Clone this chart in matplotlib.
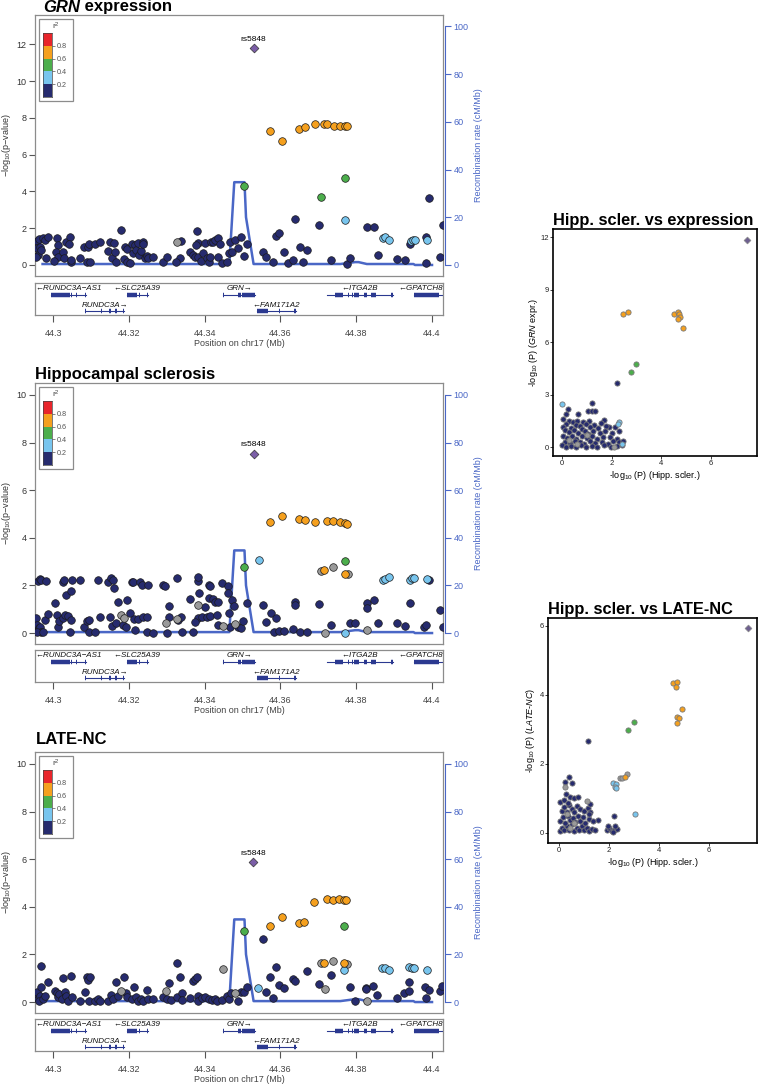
import matplotlib
matplotlib.use("Agg")
import matplotlib.pyplot as plt
from matplotlib.patches import Rectangle

plt.rcParams['font.family'] = ['Liberation Sans', 'DejaVu Sans']
plt.rcParams['mathtext.fontset'] = 'custom'
plt.rcParams['mathtext.rm'] = 'Liberation Sans'
plt.rcParams['mathtext.it'] = 'Liberation Sans:italic'
plt.rcParams['mathtext.bf'] = 'Liberation Sans:bold'

# ---------------- data ----------------
lead_snp = "rs5848"

# recombination rate (cM/Mb)
rec_pos = [44.2972, 44.3465, 44.3478, 44.3505, 44.3509, 44.3529, 44.3758,
           44.3797, 44.3806, 44.3828, 44.3951, 44.3955, 44.4000]
rec_rate = [0.4, 0.4, 34.7, 34.7, 20.0, 0.4, 0.4, 1.2, 1.2, 0.4, 0.4, 0.0, 0.0]

# genes: name, start, end, strand, row, exons
gene_names = ["RUNDC3A\u2212AS1", "RUNDC3A", "SLC25A39", "GRN", "FAM171A2", "ITGA2B", "GPATCH8"]
gene_start = [44.2994, 44.3084, 44.3195, 44.3449, 44.3537, 44.3722, 44.3952]
gene_end = [44.3086, 44.3188, 44.3249, 44.3533, 44.3640, 44.3896, 44.4060]
gene_strand = ["-", "+", "-", "+", "-", "-", "-"]
gene_row = [0, 1, 0, 0, 1, 0, 0]
gene_exons = [
    [(44.2994, 44.3044), (44.3047, 44.3049), (44.3061, 44.3063), (44.3083, 44.3086)],
    [(44.3084, 44.3087), (44.3126, 44.3130), (44.3148, 44.3152), (44.3164, 44.3168), (44.3183, 44.3188)],
    [(44.3195, 44.3220), (44.3227, 44.3230), (44.3247, 44.3249)],
    [(44.3449, 44.3452), (44.3488, 44.3495), (44.3499, 44.3533)],
    [(44.3537, 44.3568), (44.3597, 44.3600), (44.3637, 44.3640)],
    [(44.3722, 44.3724), (44.3744, 44.3766), (44.3778, 44.3781), (44.3789, 44.3792),
     (44.3795, 44.3808), (44.3821, 44.3829), (44.3838, 44.3852), (44.3893, 44.3896)],
    [(44.3952, 44.4018), (44.4030, 44.4034)],
]

# GRN expression: (position Mb, -log10 p)
grn_navy = [
    (44.2956, 1.33), (44.2957, 0.90), (44.2960, 0.55), (44.2962, 1.40), (44.2966, 1.00), (44.2969, 0.80),
    (44.2972, 1.45), (44.2978, 1.36), (44.2987, 1.50), (44.2980, 0.36), (44.2954, 0.45), (44.3009, 1.47),
    (44.3013, 1.10), (44.3007, 0.73), (44.3013, 0.42), (44.3003, 0.24), (44.3026, 0.73), (44.3028, 0.36),
    (44.3033, 1.27), (44.3044, 1.50), (44.3041, 1.15), (44.3046, 0.18), (44.3048, 0.27), (44.3070, 0.40),
    (44.3081, 0.96), (44.3092, 1.00), (44.3095, 1.15), (44.3090, 0.15), (44.3098, 0.15), (44.3111, 1.13),
    (44.3123, 1.24), (44.3145, 0.78), (44.3150, 1.24), (44.3154, 0.40), (44.3161, 1.18), (44.3163, 0.73),
    (44.3167, 0.18), (44.3178, 1.90), (44.3187, 0.33), (44.3190, 0.96), (44.3194, 0.85), (44.3196, 0.15),
    (44.3203, 0.09), (44.3207, 1.13), (44.3211, 0.64), (44.3216, 1.09), (44.3218, 0.82), (44.3223, 1.18),
    (44.3227, 0.53), (44.3231, 0.78), (44.3236, 1.27), (44.3238, 1.13), (44.3242, 0.36), (44.3247, 0.49),
    (44.3251, 0.36), (44.3263, 0.42), (44.3291, 0.15), (44.3300, 0.42), (44.3338, 1.33), (44.3335, 0.40),
    (44.3324, 0.18), (44.3361, 0.73), (44.3368, 0.55), (44.3379, 1.87), (44.3381, 1.22), (44.3377, 1.09),
    (44.3375, 0.45), (44.3383, 0.42), (44.3390, 0.22), (44.3396, 0.64), (44.3401, 1.18), (44.3407, 0.36),
    (44.3412, 0.18), (44.3414, 0.45), (44.3417, 1.27), (44.3423, 1.27), (44.3428, 1.36), (44.3434, 1.45),
    (44.3436, 0.45), (44.3441, 1.13), (44.3445, 0.09), (44.3458, 0.18), (44.3465, 0.67), (44.3467, 1.24),
    (44.3472, 0.73), (44.3479, 1.36), (44.3488, 0.91), (44.3495, 1.50), (44.3503, 0.51), (44.3512, 1.13),
    (44.3553, 0.69), (44.3561, 0.45), (44.3580, 0.18), (44.3588, 1.55), (44.3596, 1.73), (44.3609, 0.69),
    (44.3621, 0.09), (44.3632, 0.27), (44.3638, 2.49), (44.3652, 1.00), (44.3660, 0.18), (44.3671, 0.82),
    (44.3702, 2.18), (44.3733, 0.27), (44.3775, 0.05), (44.3784, 0.40), (44.3828, 2.09), (44.3848, 2.09),
    (44.3857, 0.55), (44.3907, 0.31), (44.3928, 0.27), (44.3941, 1.13), (44.3985, 1.50), (44.3991, 3.64),
    (44.3983, 0.13), (44.4022, 0.42), (44.4029, 2.18),
]
# codes: x = no LD info (grey), b = 0.2-0.4, g = 0.4-0.6, o = 0.6-0.8, r = 0.8-1
grn_ld = [
    (44.3326, 1.27, 'x'),
    (44.3505, 4.30, 'g'), (44.3707, 3.69, 'g'), (44.3769, 4.73, 'g'),
    (44.3573, 7.27, 'o'), (44.3604, 6.76, 'o'), (44.3650, 7.40, 'o'), (44.3664, 7.51, 'o'),
    (44.3690, 7.69, 'o'), (44.3715, 7.69, 'o'), (44.3723, 7.69, 'o'), (44.3740, 7.58, 'o'),
    (44.3756, 7.58, 'o'), (44.3771, 7.58, 'o'), (44.3775, 7.58, 'o'),
    (44.3771, 2.45, 'b'), (44.3870, 1.45, 'b'), (44.3877, 1.50, 'b'), (44.3887, 1.36, 'b'),
    (44.3945, 1.33, 'b'), (44.3950, 1.36, 'b'), (44.3954, 1.36, 'b'), (44.3987, 1.36, 'b'),
]
grn_lead = (44.3529, 11.78)

# Hippocampal sclerosis
hs_navy = [
    (44.2954, 0.62), (44.2958, 0.34), (44.2960, 0.13), (44.2963, 0.20), (44.2965, 0.27), (44.2969, 0.06),
    (44.2956, 0.06), (44.2974, 0.06), (44.2959, 2.17), (44.2965, 2.27), (44.2969, 2.24), (44.2980, 2.17),
    (44.2978, 0.55), (44.2987, 0.79), (44.3004, 1.25), (44.3011, 0.76), (44.3013, 0.27), (44.3016, 0.52),
    (44.3026, 2.14), (44.3028, 2.24), (44.3035, 1.61), (44.3046, 1.75), (44.3050, 2.24), (44.3071, 2.24),
    (44.3026, 0.62), (44.3031, 0.76), (44.3040, 0.72), (44.3046, 0.55), (44.3044, 0.06), (44.3081, 0.27),
    (44.3088, 0.52), (44.3095, 0.55), (44.3095, 0.06), (44.3110, 0.06), (44.3119, 2.24), (44.3123, 0.69),
    (44.3146, 2.14), (44.3152, 2.31), (44.3157, 2.24), (44.3161, 1.90), (44.3150, 0.69), (44.3154, 0.30),
    (44.3166, 0.44), (44.3170, 1.30), (44.3185, 0.34), (44.3194, 1.39), (44.3192, 0.27), (44.3203, 0.83),
    (44.3207, 2.14), (44.3211, 2.14), (44.3214, 0.58), (44.3216, 0.13), (44.3225, 0.58), (44.3229, 2.14),
    (44.3234, 2.03), (44.3238, 0.69), (44.3247, 0.69), (44.3251, 2.03), (44.3247, 0.06), (44.3263, 0.01),
    (44.3291, 2.03), (44.3295, 1.96), (44.3300, 0.01), (44.3307, 1.15), (44.3307, 0.69), (44.3328, 2.31),
    (44.3330, 0.55), (44.3337, 0.66), (44.3339, 0.06), (44.3361, 1.44), (44.3368, 0.06), (44.3381, 2.20),
    (44.3383, 2.34), (44.3385, 1.68), (44.3381, 0.62), (44.3374, 0.48), (44.3392, 0.69), (44.3401, 1.11),
    (44.3405, 0.69), (44.3411, 2.03), (44.3414, 1.96), (44.3414, 0.72), (44.3410, 1.46), (44.3421, 1.42),
    (44.3427, 1.32), (44.3432, 0.76), (44.3434, 1.32), (44.3436, 0.34), (44.3445, 2.10), (44.3461, 1.96),
    (44.3462, 1.68), (44.3464, 0.83), (44.3467, 0.24), (44.3471, 1.37), (44.3476, 1.14), (44.3487, 0.27),
    (44.3495, 0.20), (44.3502, 0.52), (44.3512, 1.25), (44.3555, 1.18), (44.3561, 0.48), (44.3574, 0.83),
    (44.3582, 0.06), (44.3589, 0.62), (44.3596, 0.10), (44.3610, 0.10), (44.3633, 0.15), (44.3639, 1.32),
    (44.3639, 1.18), (44.3652, 0.06), (44.3670, 0.06), (44.3702, 1.21), (44.3734, 0.34), (44.3784, 0.41),
    (44.3797, 0.41), (44.3828, 1.25), (44.3828, 1.04), (44.3848, 1.37), (44.3857, 0.41), (44.3907, 0.41),
    (44.3928, 0.31), (44.3941, 1.25), (44.3980, 0.27), (44.3991, 2.24), (44.3985, 0.34), (44.4022, 0.97),
    (44.4029, 0.27),
]
hs_ld = [
    (44.3178, 0.76, 'x'), (44.3187, 0.65, 'x'), (44.3297, 0.41, 'x'), (44.3326, 0.58, 'x'),
    (44.3383, 1.18, 'x'), (44.3449, 0.30, 'x'), (44.3480, 0.38, 'x'), (44.3707, 2.62, 'x'),
    (44.3718, 0.01, 'x'), (44.3738, 2.76, 'x'), (44.3778, 2.49, 'x'), (44.3828, 0.13, 'x'),
    (44.3505, 2.77, 'g'), (44.3769, 3.01, 'g'),
    (44.3542, 3.06, 'b'), (44.3771, 0.01, 'b'), (44.3870, 2.24, 'b'), (44.3877, 2.28, 'b'),
    (44.3887, 2.34, 'b'), (44.3943, 2.24, 'b'), (44.3948, 2.30, 'b'), (44.3953, 2.32, 'b'),
    (44.3987, 2.28, 'b'),
    (44.3573, 4.68, 'o'), (44.3604, 4.92, 'o'), (44.3650, 4.77, 'o'), (44.3664, 4.73, 'o'),
    (44.3690, 4.68, 'o'), (44.3715, 2.66, 'o'), (44.3724, 4.70, 'o'), (44.3738, 4.70, 'o'),
    (44.3756, 4.68, 'o'), (44.3771, 4.63, 'o'), (44.3775, 4.56, 'o'), (44.3769, 2.48, 'o'),
]
hs_lead = (44.3529, 7.52)

# LATE-NC
late_navy = [
    (44.2956, 0.34), (44.2960, 0.13), (44.2958, 0.41), (44.2965, 0.27), (44.2963, 0.06), (44.2969, 0.62),
    (44.2967, 1.51), (44.2974, 0.13), (44.2978, 0.27), (44.2987, 0.86), (44.3004, 0.48), (44.3009, 0.37),
    (44.3013, 0.23), (44.3016, 0.34), (44.3022, 0.13), (44.3026, 1.00), (44.3031, 0.41), (44.3035, 0.27),
    (44.3040, 0.06), (44.3046, 1.11), (44.3049, 0.20), (44.3071, 0.06), (44.3084, 0.41), (44.3090, 1.07),
    (44.3093, 0.93), (44.3097, 1.07), (44.3095, 0.06), (44.3110, 0.06), (44.3119, 0.13), (44.3123, 0.06),
    (44.3145, 0.06), (44.3152, 0.30), (44.3159, 0.13), (44.3166, 0.83), (44.3172, 0.27), (44.3187, 1.07),
    (44.3192, 0.37), (44.3194, 0.23), (44.3207, 0.13), (44.3214, 0.62), (44.3218, 0.20), (44.3225, 0.06),
    (44.3231, 0.13), (44.3238, 0.06), (44.3247, 0.51), (44.3251, 0.13), (44.3263, 0.13), (44.3291, 0.20),
    (44.3300, 0.13), (44.3307, 0.80), (44.3310, 0.08), (44.3326, 1.63), (44.3328, 0.20), (44.3335, 1.04),
    (44.3339, 0.38), (44.3339, 0.08), (44.3361, 0.15), (44.3370, 0.90), (44.3374, 0.97), (44.3379, 1.04),
    (44.3381, 0.27), (44.3383, 0.06), (44.3392, 0.15), (44.3401, 0.20), (44.3410, 0.13), (44.3418, 0.08),
    (44.3427, 0.13), (44.3433, 0.06), (44.3445, 0.08), (44.3458, 0.27), (44.3465, 0.13), (44.3470, 0.37),
    (44.3487, 0.06), (44.3495, 0.41), (44.3504, 0.41), (44.3512, 0.65), (44.3553, 2.66), (44.3561, 0.42),
    (44.3572, 1.06), (44.3579, 0.17), (44.3588, 1.48), (44.3595, 0.70), (44.3610, 0.59), (44.3632, 0.97),
    (44.3639, 0.90), (44.3669, 1.29), (44.3702, 0.76), (44.3733, 1.15), (44.3784, 0.64), (44.3797, 0.03),
    (44.3827, 0.61), (44.3827, 0.53), (44.3845, 0.67), (44.3856, 0.29), (44.3907, 0.19), (44.3926, 0.38),
    (44.3939, 0.45), (44.3940, 0.84), (44.3982, 0.63), (44.3991, 0.50), (44.3985, 0.15), (44.4021, 0.48),
    (44.4027, 0.67),
]
late_ld = [
    (44.3178, 0.48, 'x'), (44.3297, 0.48, 'x'), (44.3449, 1.37, 'x'), (44.3480, 0.38, 'x'),
    (44.3708, 1.62, 'x'), (44.3717, 0.56, 'x'), (44.3738, 1.74, 'x'), (44.3775, 1.60, 'x'),
    (44.3828, 0.03, 'x'),
    (44.3505, 2.99, 'g'), (44.3768, 3.19, 'g'),
    (44.3541, 0.59, 'b'), (44.3768, 1.36, 'b'), (44.3869, 1.44, 'b'), (44.3876, 1.43, 'b'),
    (44.3886, 1.35, 'b'), (44.3940, 1.46, 'b'), (44.3948, 1.41, 'b'), (44.3952, 1.41, 'b'),
    (44.3986, 1.36, 'b'),
    (44.3572, 3.18, 'o'), (44.3603, 3.56, 'o'), (44.3649, 3.30, 'o'), (44.3663, 3.35, 'o'),
    (44.3689, 4.19, 'o'), (44.3716, 1.64, 'o'), (44.3723, 4.33, 'o'), (44.3739, 4.29, 'o'),
    (44.3755, 4.33, 'o'), (44.3768, 4.29, 'o'), (44.3773, 4.29, 'o'), (44.3768, 1.62, 'o'),
]
late_lead = (44.3528, 5.87)

# Hipp. scler. (x) vs GRN expression (y)
sc1_navy = [
    (2.21, 3.64), (0.25, 2.17), (1.19, 2.50), (1.03, 2.08), (1.21, 2.08), (1.32, 2.08), (0.63, 1.88),
    (0.17, 1.90), (0.05, 1.64), (1.69, 1.58), (1.89, 1.16),
    (0.30, 1.50), (0.45, 1.42), (0.62, 1.52), (0.85, 1.45), (1.08, 1.48), (0.18, 1.32), (0.55, 1.28),
    (0.72, 1.22), (0.95, 1.33), (1.30, 1.27), (1.55, 1.36), (0.04, 1.18), (0.37, 1.12), (0.80, 1.06),
    (1.14, 1.16), (1.45, 1.08), (1.78, 1.22), (2.12, 1.13), (0.12, 0.97), (0.27, 0.88), (0.48, 0.96),
    (0.66, 0.83), (0.92, 0.92), (1.05, 0.78), (1.26, 0.94), (1.52, 0.84), (1.74, 0.91), (2.00, 0.79),
    (2.31, 0.92), (0.06, 0.66), (0.21, 0.53), (0.41, 0.62), (0.58, 0.48), (0.81, 0.66), (1.00, 0.53),
    (1.21, 0.62), (1.41, 0.48), (1.66, 0.56), (1.92, 0.61), (2.21, 0.49), (0.11, 0.31), (0.31, 0.24),
    (0.51, 0.37), (0.71, 0.28), (0.90, 0.18), (1.11, 0.36), (1.31, 0.24), (1.61, 0.31), (1.86, 0.19),
    (2.06, 0.36), (2.31, 0.29), (2.46, 0.37), (0.00, 0.11), (0.16, 0.04), (0.36, 0.09), (0.56, 0.02),
    (0.76, 0.11), (0.96, 0.04), (1.21, 0.09), (1.41, 0.02), (1.71, 0.11), (1.96, 0.04), (2.21, 0.09),
    (2.41, 0.11),
]
sc1_ld = [
    (0.30, 0.40, 'x'), (0.60, 0.20, 'x'), (1.00, 0.70, 'x'), (2.10, 0.00, 'x'),
    (0.01, 2.46, 'b'), (2.29, 1.45, 'b'), (2.25, 1.30, 'b'), (2.40, 0.20, 'b'),
    (2.99, 4.74, 'g'), (2.76, 4.30, 'g'),
    (2.45, 7.60, 'o'), (2.65, 7.71, 'o'), (4.52, 7.60, 'o'), (4.65, 7.73, 'o'), (4.69, 7.60, 'o'),
    (4.76, 7.45, 'o'), (4.65, 7.30, 'o'), (4.85, 6.78, 'o'),
]
sc1_lead = (7.45, 11.85)

# Hipp. scler. (x) vs LATE-NC (y)
sc2_navy = [
    (1.16, 2.68), (0.40, 1.61), (0.24, 1.49), (0.53, 1.46), (0.28, 1.13), (0.44, 1.05), (0.60, 1.00),
    (0.77, 1.03), (2.20, 0.49), (1.57, 0.38),
    (0.02, 0.05), (0.10, 0.15), (0.20, 0.08), (0.30, 0.20), (0.40, 0.10), (0.50, 0.25), (0.60, 0.05),
    (0.70, 0.15), (0.80, 0.10), (0.90, 0.20), (1.00, 0.08), (1.10, 0.15), (1.20, 0.05), (1.30, 0.12),
    (1.45, 0.10), (0.05, 0.35), (0.15, 0.45), (0.25, 0.30), (0.35, 0.50), (0.45, 0.38), (0.55, 0.42),
    (0.65, 0.32), (0.75, 0.50), (0.85, 0.35), (0.95, 0.45), (1.05, 0.30), (1.20, 0.40), (1.35, 0.35),
    (0.10, 0.65), (0.20, 0.75), (0.30, 0.60), (0.40, 0.80), (0.50, 0.70), (0.60, 0.62), (0.70, 0.78),
    (0.85, 0.70), (1.00, 0.65), (1.15, 0.72), (1.25, 0.60), (1.22, 0.85), (1.18, 0.55), (0.05, 0.90),
    (0.20, 0.95), (0.35, 0.88), (1.90, 0.10), (2.00, 0.15), (2.10, 0.05), (2.20, 0.10), (2.30, 0.12),
    (1.95, 0.20), (2.25, 0.20), (2.15, 0.02),
]
sc2_ld = [
    (2.44, 1.58, 'x'), (2.51, 1.60, 'x'), (2.73, 1.71, 'x'), (1.11, 0.94, 'x'), (0.24, 1.34, 'x'),
    (0.30, 0.55, 'x'), (0.60, 0.30, 'x'), (0.45, 0.15, 'x'),
    (2.17, 1.46, 'b'), (2.28, 1.42, 'b'), (2.24, 1.34, 'b'), (2.28, 1.31, 'b'), (3.04, 0.55, 'b'),
    (3.00, 3.22, 'g'), (2.75, 2.99, 'g'),
    (2.64, 1.61, 'o'), (4.57, 4.34, 'o'), (4.71, 4.37, 'o'), (4.68, 4.22, 'o'), (4.93, 3.59, 'o'),
    (4.73, 3.37, 'o'), (4.81, 3.33, 'o'), (4.72, 3.18, 'o'),
]
sc2_lead = (7.57, 5.95)

# ---------------- style ----------------
NAVY = "#262b6e"
LD_COLORS = {'x': "#9a9a9a", 'b': "#78c5ee", 'g': "#4cae4c", 'o': "#f5a01e", 'r': "#e8252b"}
LEGEND_COLORS = [NAVY, LD_COLORS['b'], LD_COLORS['g'], LD_COLORS['o'], LD_COLORS['r']]
LEAD_COLOR = "#7b5ea7"
REC_COLOR = "#4a67c6"
GENE_COLOR = "#2b3990"
FRAME = "#8c8c8c"
TXT = "#333333"
XMIN, XMAX = 44.2952, 44.4029

W, H = 758, 1084
fig = plt.figure(figsize=(W / 100, H / 100), dpi=100)


def rect(x0, y0, x1, y1):
    return [x0 / W, 1 - y1 / H, (x1 - x0) / W, (y1 - y0) / H]


def draw_locus(y0, y1, navy, colored, lead, ylim, yticks, cm_per_unit):
    ax = fig.add_axes(rect(35, y0, 443, y1))
    ax2 = ax.twinx()
    ax.set_zorder(ax2.get_zorder() + 1)
    ax.patch.set_visible(False)

    ax2.plot(rec_pos, rec_rate, color=REC_COLOR, lw=1.8)
    ax2.set_ylim(ylim[0] * cm_per_unit, ylim[1] * cm_per_unit)
    ax2.set_yticks([0, 20, 40, 60, 80, 100])
    ax2.tick_params(axis='y', colors=REC_COLOR, labelsize=6.5, length=4, width=0.8, pad=2)
    for s in ['left', 'top', 'bottom']:
        ax2.spines[s].set_visible(False)
    ax2.spines['right'].set_color(REC_COLOR)
    ax2.spines['right'].set_bounds(0, 100)
    ax2.spines['right'].set_position(('outward', 1.5))
    ax2.set_ylabel("Recombination rate (cM/Mb)", color=REC_COLOR, fontsize=6.5)
    ax2.yaxis.set_label_coords(1.075, 0.5)

    xs, ys = zip(*navy)
    ax.scatter(xs, ys, s=30, c=NAVY, edgecolors='#1a1a1a', linewidths=0.5, zorder=3)
    for code in 'xbgor':
        pts = [(p, v) for p, v, c in colored if c == code]
        if pts:
            xs, ys = zip(*pts)
            ax.scatter(xs, ys, s=30, c=LD_COLORS[code], edgecolors='#1a1a1a', linewidths=0.5, zorder=4)
    ax.scatter([lead[0]], [lead[1]], marker='D', s=20, c=LEAD_COLOR, edgecolors='#333333',
               linewidths=0.5, zorder=5)
    ax.annotate(lead_snp, lead, xytext=(0, 4), textcoords='offset points', ha='center',
                va='bottom', fontsize=6)

    ax.set_xlim(XMIN, XMAX)
    ax.set_ylim(*ylim)
    ax.set_xticks([])
    ax.set_yticks(yticks)
    ax.tick_params(axis='y', colors='#555555', labelcolor=TXT, labelsize=6.5, length=4, width=0.8, pad=2)
    for s in ax.spines.values():
        s.set_color(FRAME)
        s.set_linewidth(0.9)
    ax.set_ylabel("\u2212log$_{10}$(p\u2212value)", fontsize=6.5, color=TXT)
    ax.yaxis.set_label_coords(-22 / 408, 0.5)

    # r2 legend
    hpx = y1 - y0
    ax.add_patch(Rectangle((4 / 408, 1 - 86 / hpx), 34 / 408, 82 / hpx, transform=ax.transAxes,
                           facecolor='white', edgecolor=FRAME, lw=0.9, zorder=6))
    lg = ax.inset_axes([8.3 / 408, 1 - 82 / hpx, 9 / 408, 64 / hpx])
    lg.set_zorder(7)
    for i, c in enumerate(LEGEND_COLORS):
        lg.bar(0, 0.2, bottom=i * 0.2, width=1, color=c, edgecolor='none')
    lg.set_xlim(-0.5, 0.5)
    lg.set_ylim(0, 1)
    lg.set_xticks([])
    lg.yaxis.tick_right()
    lg.set_yticks([0.2, 0.4, 0.6, 0.8])
    lg.set_yticklabels(['0.2', '0.4', '0.6', '0.8'])
    lg.tick_params(axis='y', labelsize=5.2, length=2, width=0.5, pad=1, colors='#555555')
    for s in lg.spines.values():
        s.set_linewidth(0.5)
        s.set_color('#444444')
    ax.text(21 / 408, 1 - 11 / hpx, "r$^2$", transform=ax.transAxes, fontsize=6, ha='center',
            va='center', color='#444444', zorder=8)
    return ax


def draw_genes(y0, y1):
    gx = fig.add_axes(rect(35, y0, 443, y1))
    gx.set_xlim(XMIN, XMAX)
    gx.set_ylim(0, 1)
    bar_y = [0.625, 0.14]
    lab_y = [0.83, 0.31]
    for name, s, e, strand, row, exons in zip(gene_names, gene_start, gene_end, gene_strand,
                                               gene_row, gene_exons):
        gx.plot([s, e], [bar_y[row]] * 2, color=GENE_COLOR, lw=0.8)
        for a, b in exons:
            gx.plot([a, b], [bar_y[row]] * 2, color=GENE_COLOR, lw=3.2, solid_capstyle='butt')
        label = "\u2190" + name if strand == '-' else name + "\u2192"
        if e > XMAX:
            gx.text(XMAX - 0.0001, lab_y[row], label, ha='right', va='center', fontsize=5.8,
                    style='italic', color='#111111')
        else:
            gx.text((s + e) / 2, lab_y[row], label, ha='center', va='center', fontsize=5.8,
                    style='italic', color='#111111')
    gx.set_yticks([])
    gx.set_xticks([44.30, 44.32, 44.34, 44.36, 44.38, 44.40])
    gx.set_xticklabels(['44.3', '44.32', '44.34', '44.36', '44.38', '44.4'])
    gx.tick_params(axis='x', colors='#555555', labelcolor='#444444', labelsize=6.5, length=5,
                   width=0.8, pad=5)
    for s in gx.spines.values():
        s.set_color(FRAME)
        s.set_linewidth(0.9)
    gx.set_xlabel("Position on chr17 (Mb)", fontsize=6.5, color='#444444', labelpad=1)


def draw_scatter(box, navy, colored, lead, xlim, ylim, yticks, title, ylabel, ylab_pad):
    ax = fig.add_axes(rect(*box))
    xs, ys = zip(*navy)
    ax.scatter(xs, ys, s=14, c=NAVY, edgecolors='#777777', linewidths=0.6, zorder=3)
    for code in 'xbgor':
        pts = [(p, v) for p, v, c in colored if c == code]
        if pts:
            xs, ys = zip(*pts)
            ax.scatter(xs, ys, s=14, c=LD_COLORS[code], edgecolors='#777777', linewidths=0.6, zorder=4)
    ax.scatter([lead[0]], [lead[1]], marker='D', s=12, c="#6e6090", edgecolors='#888888',
               linewidths=0.5, zorder=5)
    ax.set_xlim(*xlim)
    ax.set_ylim(*ylim)
    ax.set_xticks([0, 2, 4, 6])
    ax.set_yticks(yticks)
    ax.tick_params(labelsize=5.5, length=2, width=0.6, pad=1, colors='#222222')
    for s in ax.spines.values():
        s.set_linewidth(1.2)
        s.set_color('black')
    ax.set_title(title, loc='left', fontsize=11.8, fontweight='bold', pad=3)
    ax.set_xlabel("-log$_{10}$ (P) (Hipp. scler.)", fontsize=6.5, labelpad=1)
    ax.set_ylabel(ylabel, fontsize=6.5, labelpad=ylab_pad)


# locus zoom panels
ax1 = draw_locus(15, 276, grn_navy, grn_ld, grn_lead, (-0.6, 13.6), [0, 2, 4, 6, 8, 10, 12], 100 / 12.98)
draw_genes(283, 315)
ax2 = draw_locus(383, 644, hs_navy, hs_ld, hs_lead, (-0.46, 10.5), [0, 2, 4, 6, 8, 10], 10)
draw_genes(650, 682)
ax3 = draw_locus(752, 1013, late_navy, late_ld, late_lead, (-0.46, 10.5), [0, 2, 4, 6, 8, 10], 10)
draw_genes(1019, 1051)

t1 = fig.text(43 / W, 1 - 7 / H, "GRN", fontsize=12, fontweight='bold', style='italic', va='center')
ax1.annotate(" expression", xy=(1, 0), xycoords=t1, va='bottom', ha='left', fontsize=12,
             fontweight='bold', annotation_clip=False)
fig.text(35 / W, 1 - 374 / H, "Hippocampal sclerosis", fontsize=12, fontweight='bold', va='center')
fig.text(36 / W, 1 - 740 / H, "LATE-NC", fontsize=12, fontweight='bold', va='center')

# correlation scatters
draw_scatter((553, 229, 757, 456), sc1_navy, sc1_ld, sc1_lead, (-0.36, 7.84), (-0.5, 12.46),
             [0, 3, 6, 9, 12], "Hipp. scler. vs expression",
             "-log$_{10}$ (P) ($\\mathit{GRN}$ expr.)", 0)
draw_scatter((548, 618, 757, 843), sc2_navy, sc2_ld, sc2_lead, (-0.44, 7.92), (-0.29, 6.23),
             [0, 2, 4, 6], "Hipp. scler. vs LATE-NC",
             "-log$_{10}$ (P) ($\\mathit{LATE}$-$\\mathit{NC}$)", 2)

fig.savefig("out.png", dpi=100)
